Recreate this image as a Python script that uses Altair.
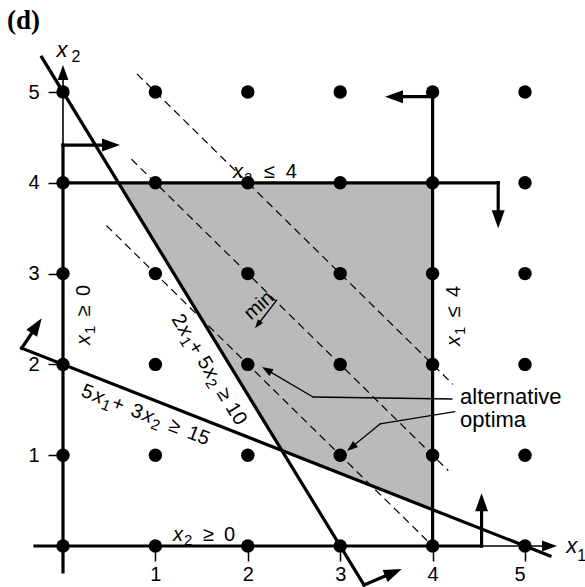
import altair as alt
import numpy as np
import pandas as pd

# ---------------- chart values ----------------
grid_x1 = [0, 1, 2, 3, 4, 5]
grid_x2 = [0, 1, 2, 3, 4, 5]
tick_values = [1, 2, 3, 4, 5]

# constraint lines a*x1 + b*x2 = c
steep = (5, 3, 15)      # line through (0,5) and (3,0)
shallow = (2, 5, 10)    # line through (0,2) and (5,0)
x1_max = 4
x2_max = 4
steep_x_range = [-0.23, 3.258]
shallow_x_range = [-0.447, 5.27]

# objective contours x1 + x2 = level (dashed)
obj_levels = [6, 5, 4]
obj_x_start = [0.80, 0.74, 0.47]
obj_x_end = [4.22, 4.17, 3.94]

# constraint labels: runs of (text, role) ; role: n = normal, i = italic x, s = subscript
lab_runs = [
    [("x", "i"), ("2", "s"), ("≤", "n"), ("4", "n")],
    [("x", "i"), ("2", "s"), ("≥", "n"), ("0", "n")],
    [("x", "i"), ("1", "s"), ("≥", "n"), ("0", "n")],
    [("x", "i"), ("1", "s"), ("≤", "n"), ("4", "n")],
    [("2", "n"), ("x", "i"), ("1", "s"), ("+", "n"), ("5", "n"), ("x", "i"), ("2", "s"), ("≥", "n"), ("10", "n")],
    [("5", "n"), ("x", "i"), ("1", "s"), ("+", "n"), ("3", "n"), ("x", "i"), ("2", "s"), ("≥", "n"), ("15", "n")],
]
# centre of text body (pixel-calibrated data coords), reading angle, total length (px)
lab_cx = [2.186, 1.526, 0.216, 4.221, 1.591, 0.898]
lab_cy = [4.13, 0.135, 2.544, 2.533, 1.949, 1.454]
lab_angle = [0, 0, 270, 270, 58.6, 21.4]
lab_len = [64, 62, 60, 60, 126, 136]

note_text = ["alternative", "optima"]
note_x = [4.297, 4.297]
note_y = [1.564, 1.314]

# ---------------- geometry helpers ----------------
W, H = 462, 454
SX, SY = W / 5, H / 5
XS = alt.Scale(domain=[0, 5], nice=False, zero=False)
YS = alt.Scale(domain=[0, 5], nice=False, zero=False)
FONT = "Liberation Sans, Arial, DejaVu Sans, sans-serif"
FS = 20

AX = alt.Axis(values=tick_values, title=None, domain=False, grid=False, tickSize=15,
              tickWidth=1.5, tickColor="black", labelColor="black", labelFontSize=20,
              labelFont=FONT, labelPadding=3)
AY = alt.Axis(values=tick_values, title=None, domain=False, grid=False, tickSize=15,
              tickWidth=1.5, tickColor="black", labelColor="black", labelFontSize=20,
              labelFont=FONT, labelPadding=9)


def X(f):
    return alt.X(f, type="quantitative", scale=XS, axis=AX)


def Y(f, **kw):
    return alt.Y(f, type="quantitative", scale=YS, axis=AY, **kw)


def arrow(x0, y0, x1, y1, L):
    dxp = (x1 - x0) * SX
    dyp = -(y1 - y0) * SY
    d = np.hypot(dxp, dyp)
    ux, uy = dxp / d, dyp / d
    ex = x1 - ux * L * 0.6 / SX
    ey = y1 + uy * L * 0.6 / SY
    ang = float(np.degrees(np.arctan2(dxp, -dyp)) % 360)
    return (x0, y0, ex, ey), (x1, y1, ang, (2 * L) ** 2)


def line_y(coef, x):
    a, b, c = coef
    return (c - a * x) / b


# Arial advance widths (em units)
ADV = {"x": 0.5, "+": 0.584, "≥": 0.549, "≤": 0.549}


def gap_weight(a, b):
    (t0, r0), (t1, r1) = a, b
    if r0 == "i":
        return 0.1
    if r0 == "s" and t1 == "+":
        return 0.1
    if r0 == "n" and r1 == "i":
        return 0.15
    return 1.0


def adv(t, fs):
    return sum(ADV.get(ch, 0.556) for ch in t) * fs


def layout(runs, cx, cy, ang, length):
    sub_fs = FS * 0.75
    sizes = [sub_fs if r == "s" else FS for _, r in runs]
    widths = [adv(t, s) for (t, _), s in zip(runs, sizes)]
    natural = sum(widths)
    gaps = [gap_weight(runs[k], runs[k + 1]) for k in range(len(runs) - 1)]
    extra = max(length - natural, 0)
    unit = extra / max(sum(gaps), 1)
    th = np.radians(ang)
    ux, uy = np.cos(th), np.sin(th)
    nx, ny = -np.sin(th), np.cos(th)
    pos = -length / 2
    rows = []
    for k, ((t, r), s, w) in enumerate(zip(runs, sizes, widths)):
        base = 0.36 * FS + (0.22 * FS if r == "s" else 0)
        px = ux * pos + nx * base
        py = uy * pos + ny * base
        rows.append({"x": cx + px / SX, "y": cy - py / SY, "t": t, "fs": s, "a": ang % 360,
                     "st": "italic" if r == "i" else "normal"})
        pos += w
        if k < len(gaps):
            pos += gaps[k] * unit
    return rows


# thick constraint lines
thick = [
    (0, -0.286, 0, 4.416),
    (-0.303, 0, 4.53, 0),
    (0, x2_max, 4.71, x2_max),
    (x1_max, 0, x1_max, 4.948),
    (steep_x_range[0], line_y(steep, steep_x_range[0]), steep_x_range[1], line_y(steep, steep_x_range[1])),
    (shallow_x_range[0], line_y(shallow, shallow_x_range[0]), shallow_x_range[1], line_y(shallow, shallow_x_range[1])),
]
heads = []
for (a, b, c, d) in [
    (0, 4.416, 0.617, 4.416),
    (4.53, 0, 4.53, 0.580),
    (4.71, x2_max, 4.71, 3.499),
    (x1_max, 4.948, 3.485, 4.948),
    (steep_x_range[1], line_y(steep, steep_x_range[1]), 3.666, -0.253),
    (shallow_x_range[0], line_y(shallow, shallow_x_range[0]), -0.2305, 2.508),
]:
    s, h = arrow(a, b, c, d, 18)
    thick.append(s)
    heads.append(h)

thin = []
for (a, b, c, d) in [(0, 4.416, 0, 5.297), (4.53, 0, 5.346, 0)]:
    s, h = arrow(a, b, c, d, 15)
    thin.append(s)
    heads.append(h)

fine = []
s, h = arrow(2.313, 2.709, 2.078, 2.398, 9)
fine.append(s)
heads.append(h)
for poly in [[(4.210, 1.619), (2.706, 1.641), (2.154, 1.971)],
             [(4.242, 1.479), (3.431, 1.344), (3.074, 1.046)]]:
    fine.append((poly[0][0], poly[0][1], poly[1][0], poly[1][1]))
    s, h = arrow(poly[1][0], poly[1][1], poly[2][0], poly[2][1], 11)
    fine.append(s)
    heads.append(h)

seg_cols = ["x", "y", "x2", "y2"]
thick_df = pd.DataFrame(thick, columns=seg_cols)
thin_df = pd.DataFrame(thin, columns=seg_cols)
fine_df = pd.DataFrame(fine, columns=seg_cols)
heads_df = pd.DataFrame(heads, columns=["x", "y", "a", "s"])

# feasible region polygon
xi = (steep[2] * shallow[1] - shallow[2] * steep[1]) / (steep[0] * shallow[1] - shallow[0] * steep[1])
x_left = (steep[2] - steep[1] * x2_max) / steep[0]
area_df = pd.DataFrame({
    "x": [x_left, xi, x1_max],
    "y": [x2_max, line_y(steep, xi), line_y(shallow, x1_max)],
    "top": [x2_max] * 3,
})

dash_rows = []
for lv, xa, xb in zip(obj_levels, obj_x_start, obj_x_end):
    dash_rows.append((xa, lv - xa, xb, lv - xb))
dash_df = pd.DataFrame(dash_rows, columns=seg_cols)

pts_df = pd.DataFrame([(a, b) for a in grid_x1 for b in grid_x2], columns=["x", "y"])

lab_rows = []
for runs, cx, cy, an, ln in zip(lab_runs, lab_cx, lab_cy, lab_angle, lab_len):
    lab_rows += layout(runs, cx, cy, an, ln)
lab_df = pd.DataFrame(lab_rows)

# ---------------- layers ----------------
area = alt.Chart(area_df).mark_area(color="#bababa", opacity=1, interpolate="linear").encode(
    x=X("x"), y=Y("y", stack=None), y2=alt.Y2("top"))

dashes = alt.Chart(dash_df).mark_rule(color="black", strokeWidth=1.2, strokeDash=[8, 5]).encode(
    x=X("x"), y=Y("y"), x2="x2", y2="y2")

thick_l = alt.Chart(thick_df).mark_rule(color="black", strokeWidth=3.2, strokeCap="square").encode(
    x=X("x"), y=Y("y"), x2="x2", y2="y2")
thin_l = alt.Chart(thin_df).mark_rule(color="black", strokeWidth=1.6).encode(
    x=X("x"), y=Y("y"), x2="x2", y2="y2")
fine_l = alt.Chart(fine_df).mark_rule(color="black", strokeWidth=1.3, strokeCap="round").encode(
    x=X("x"), y=Y("y"), x2="x2", y2="y2")

dots = alt.Chart(pts_df).mark_circle(color="black", size=180, opacity=1).encode(
    x=X("x"), y=Y("y"))

heads_l = alt.Chart(heads_df).mark_point(
    shape="M0,0L-0.36,1L0.36,1Z", filled=True, color="black", opacity=1, strokeWidth=0).encode(
    x=X("x"), y=Y("y"), angle=alt.Angle("a:Q", scale=None), size=alt.Size("s:Q", scale=None))

layers = [area, dashes, thick_l, thin_l, fine_l, dots, heads_l]

for st in ["normal", "italic"]:
    layers.append(alt.Chart(lab_df[lab_df["st"] == st]).mark_text(
        font=FONT, fontStyle=st, color="black", align="left", baseline="alphabetic"
    ).encode(x=X("x"), y=Y("y"), text="t:N", angle=alt.Angle("a:Q", scale=None),
             size=alt.Size("fs:Q", scale=None)))

for t, lx, ly in zip(note_text, note_x, note_y):
    layers.append(alt.Chart(pd.DataFrame({"x": [lx], "y": [ly]})).mark_text(
        text=t, fontSize=22, font=FONT, color="black", align="left", baseline="alphabetic"
    ).encode(x=X("x"), y=Y("y")))

layers.append(alt.Chart(pd.DataFrame({"x": [2.122], "y": [2.648]})).mark_text(
    text="min", angle=318, fontSize=20, font=FONT, color="black", align="center", baseline="middle"
).encode(x=X("x"), y=Y("y")))

for t, lx, ly, fs, st in [("x", -0.01, 5.465, 22, "italic"), ("2", 0.141, 5.39, 16, "normal"),
                          ("x", 5.505, 0.005, 22, "italic"), ("1", 5.613, -0.105, 16, "normal")]:
    layers.append(alt.Chart(pd.DataFrame({"x": [lx], "y": [ly]})).mark_text(
        text=t, fontSize=fs, fontStyle=st, font=FONT, color="black", align="center", baseline="middle"
    ).encode(x=X("x"), y=Y("y")))

layers.append(alt.Chart(pd.DataFrame({"x": [-0.606], "y": [5.78]})).mark_text(
    text="(d)", fontSize=27, fontWeight="bold", font="Liberation Serif, Times New Roman, serif",
    color="black", align="left", baseline="middle"
).encode(x=X("x"), y=Y("y")))

chart = alt.layer(*layers).properties(
    width=W, height=H,
    autosize=alt.AutoSizeParams(type="none"),
    padding={"left": 63, "top": 92, "right": 60, "bottom": 41},
    background="white",
).configure_view(stroke=None)

chart.save("out.html", embed_options={"renderer": "svg", "actions": False})
